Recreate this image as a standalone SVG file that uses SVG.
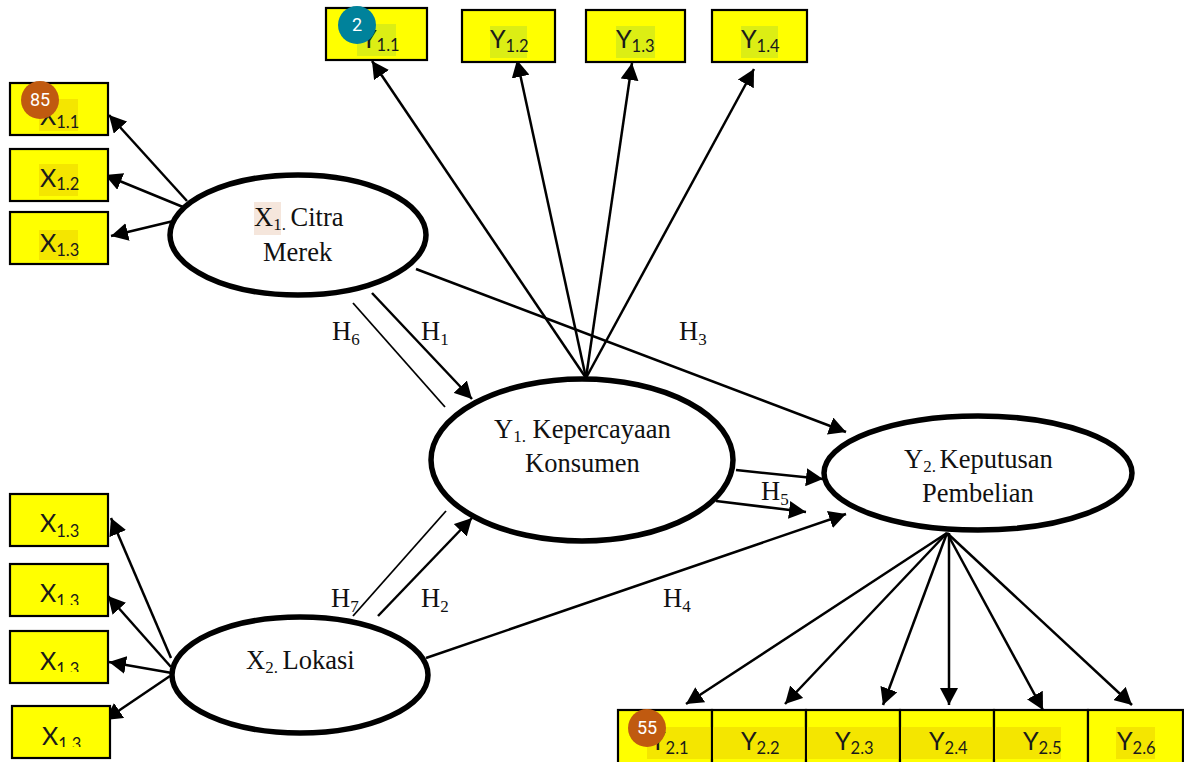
<svg xmlns="http://www.w3.org/2000/svg" width="1184" height="762" viewBox="0 0 1184 762">
<style>
.box{fill:#ffff00;stroke:#000;stroke-width:2.2}
.hl{fill:#f4e600}
.hg{fill:#dcee14}
.el{fill:#fff;stroke:#000;stroke-width:5.5}
.lbl{font-family:Lato,"Noto Sans",sans-serif;font-size:25px;fill:#1a1a1a}
.lbl tspan{font-size:16.5px}
.ser{font-family:"Liberation Serif","Times New Roman",serif;font-size:26.5px;fill:#111}
.ser tspan.s{font-size:17px}
.badge{font-family:Roboto,"Noto Sans",sans-serif;font-size:18px;fill:#fff;text-anchor:middle}
.c{fill:none;stroke:#000;stroke-width:2.5}
.t{fill:none;stroke:#000;stroke-width:1.8}
</style>
<defs>
<marker id="a" markerUnits="userSpaceOnUse" markerWidth="19" markerHeight="18" refX="17" refY="9" orient="auto"><path d="M0 0L17 9L0 18Z" fill="#000"/></marker>
<clipPath id="c1"><rect x="0" y="0" width="1184" height="260"/></clipPath>
<clipPath id="c2"><rect x="0" y="0" width="1184" height="605"/></clipPath>
<clipPath id="c3"><rect x="0" y="0" width="1184" height="672"/></clipPath>
<clipPath id="c4"><rect x="0" y="0" width="1184" height="747"/></clipPath>
<clipPath id="c5"><rect x="0" y="0" width="1184" height="754"/></clipPath>
</defs>
<g id="connectors">
<path class="c" marker-end="url(#a)" d="M187 201L109 115"/>
<path class="c" marker-end="url(#a)" d="M183 207L105 175"/>
<path class="c" marker-end="url(#a)" d="M186 218L111 236"/>
<path class="c" marker-end="url(#a)" d="M586 378L372 61"/>
<path class="c" marker-end="url(#a)" d="M586 378L517 60"/>
<path class="c" marker-end="url(#a)" d="M586 378L632 63"/>
<path class="c" marker-end="url(#a)" d="M586 378L754 69"/>
<path class="t" d="M353 303L445 407"/>
<path class="c" marker-end="url(#a)" d="M372 293L472 399"/>
<path class="c" marker-end="url(#a)" d="M416 269L846 432"/>
<path class="c" marker-end="url(#a)" d="M736 470L823 479"/>
<path class="c" marker-end="url(#a)" d="M716 501L806 512"/>
<path class="t" d="M353 616L446 511"/>
<path class="c" marker-end="url(#a)" d="M378 616L472 518"/>
<path class="c" marker-end="url(#a)" d="M426 658L846 514"/>
<path class="c" marker-end="url(#a)" d="M171 658L111 518"/>
<path class="c" marker-end="url(#a)" d="M171 667L108 596"/>
<path class="c" marker-end="url(#a)" d="M172 673L109 662"/>
<path class="c" marker-end="url(#a)" d="M170 676L105 720"/>
<path class="c" marker-end="url(#a)" d="M947 533L686 704"/>
<path class="c" marker-end="url(#a)" d="M947 533L785 704"/>
<path class="c" marker-end="url(#a)" d="M947 533L883 705"/>
<path class="c" marker-end="url(#a)" d="M949 533L949 705"/>
<path class="c" marker-end="url(#a)" d="M947 533L1043 710"/>
<path class="c" marker-end="url(#a)" d="M947 533L1132 705"/>
</g>
<g id="node-x11"><rect class="box" x="10" y="83" width="98" height="52"/><rect class="hl" x="39" y="99" width="39" height="32"/><text class="lbl" x="40" y="125">X<tspan dy="3">1.1</tspan></text></g>
<g id="node-x12"><rect class="box" x="10" y="149" width="98" height="52"/><rect class="hl" x="39" y="164" width="39" height="32"/><text class="lbl" x="40" y="187">X<tspan dy="3">1.2</tspan></text></g>
<g id="node-x13"><rect class="box" x="10" y="212" width="98" height="52"/><rect class="hl" x="39" y="230" width="39" height="30"/><text class="lbl" x="40" y="252" clip-path="url(#c1)">X<tspan dy="4">1.3</tspan></text></g>
<g id="node-y11"><rect class="box" x="326" y="8" width="101" height="52"/><rect class="hg" x="357" y="24" width="39" height="32"/><text class="lbl" x="361" y="48">Y<tspan dy="3">1.1</tspan></text></g>
<g id="node-y12"><rect class="box" x="462" y="10" width="93" height="52"/><rect class="hg" x="490" y="26" width="37" height="32"/><text class="lbl" x="490" y="48">Y<tspan dy="4">1.2</tspan></text></g>
<g id="node-y13"><rect class="box" x="586" y="10" width="99" height="52"/><rect class="hg" x="616" y="26" width="39" height="32"/><text class="lbl" x="616" y="48">Y<tspan dy="4">1.3</tspan></text></g>
<g id="node-y14"><rect class="box" x="712" y="10" width="95" height="52"/><rect class="hg" x="741" y="26" width="37" height="32"/><text class="lbl" x="741" y="48">Y<tspan dy="4">1.4</tspan></text></g>
<g id="node-x21"><rect class="box" x="10" y="494" width="98" height="52"/><text class="lbl" x="40" y="532">X<tspan dy="5">1.3</tspan></text></g>
<g id="node-x22"><rect class="box" x="10" y="564" width="98" height="52"/><text class="lbl" x="40" y="602" clip-path="url(#c2)">X<tspan dy="5">1.3</tspan></text></g>
<g id="node-x23"><rect class="box" x="10" y="631" width="98" height="52"/><text class="lbl" x="40" y="670" clip-path="url(#c3)">X<tspan dy="5">1.3</tspan></text></g>
<g id="node-x24"><rect class="box" x="12" y="706" width="98" height="52"/><text class="lbl" x="42" y="745" clip-path="url(#c4)">X<tspan dy="5">1.3</tspan></text></g>
<g id="node-y21"><rect class="box" x="618" y="710" width="94" height="54"/><rect class="hl" x="647" y="727" width="65" height="32"/><text class="lbl" x="650" y="750" clip-path="url(#c5)">Y<tspan dy="4">2.1</tspan></text></g>
<g id="node-y22"><rect class="box" x="712" y="710" width="94" height="54"/><rect class="hl" x="713" y="727" width="93" height="32"/><text class="lbl" x="741" y="750" clip-path="url(#c5)">Y<tspan dy="4">2.2</tspan></text></g>
<g id="node-y23"><rect class="box" x="806" y="710" width="94" height="54"/><rect class="hl" x="807" y="727" width="93" height="32"/><text class="lbl" x="835" y="750" clip-path="url(#c5)">Y<tspan dy="4">2.3</tspan></text></g>
<g id="node-y24"><rect class="box" x="900" y="710" width="94" height="54"/><rect class="hl" x="901" y="727" width="93" height="32"/><text class="lbl" x="929" y="750" clip-path="url(#c5)">Y<tspan dy="4">2.4</tspan></text></g>
<g id="node-y25"><rect class="box" x="994" y="710" width="94" height="54"/><rect class="hl" x="995" y="727" width="66" height="32"/><text class="lbl" x="1023" y="750" clip-path="url(#c5)">Y<tspan dy="4">2.5</tspan></text></g>
<g id="node-y26"><rect class="box" x="1088" y="710" width="95" height="54"/><rect class="hl" x="1116" y="727" width="39" height="32"/><text class="lbl" x="1117" y="750" clip-path="url(#c5)">Y<tspan dy="4">2.6</tspan></text></g>
<g id="node-x1"><ellipse class="el" cx="298" cy="235" rx="128" ry="60"/><rect x="254" y="202" width="27" height="33" fill="#f5e6dc"/><text class="ser" x="254" y="225.5">X<tspan class="s" dy="4">1.</tspan><tspan dy="-4" dx="-2"> Citra</tspan></text><text class="ser" x="263" y="261">Merek</text></g>
<g id="node-y1"><ellipse class="el" cx="582" cy="460" rx="151" ry="81"/><text class="ser" x="494" y="437.5">Y<tspan class="s" dy="4">1.</tspan><tspan dy="-4"> Kepercayaan</tspan></text><text class="ser" x="525" y="471.5">Konsumen</text></g>
<g id="node-y2"><ellipse class="el" cx="978" cy="473" rx="154" ry="57"/><text class="ser" x="904" y="467.5">Y<tspan class="s" dy="4">2.</tspan><tspan dy="-4" dx="-3"> Keputusan</tspan></text><text class="ser" x="922" y="501.5">Pembelian</text></g>
<g id="node-x2"><ellipse class="el" cx="300" cy="675" rx="128" ry="58"/><text class="ser" x="246" y="669">X<tspan class="s" dy="4">2.</tspan><tspan dy="-4" dx="-2"> Lokasi</tspan></text></g>
<g id="labels">
<text class="ser" x="332" y="340">H<tspan class="s" dy="5">6</tspan></text>
<text class="ser" x="421" y="340">H<tspan class="s" dy="5">1</tspan></text>
<text class="ser" x="679" y="340">H<tspan class="s" dy="5">3</tspan></text>
<text class="ser" x="761" y="500">H<tspan class="s" dy="5">5</tspan></text>
<text class="ser" x="331" y="607">H<tspan class="s" dy="5">7</tspan></text>
<text class="ser" x="421" y="607">H<tspan class="s" dy="5">2</tspan></text>
<text class="ser" x="663" y="607">H<tspan class="s" dy="5">4</tspan></text>
</g>
<g id="badges">
<circle cx="40" cy="100" r="19" fill="#c05a10"/><text class="badge" x="40" y="106">85</text>
<circle cx="357" cy="25" r="19" fill="#00829b"/><text class="badge" x="357" y="31">2</text>
<circle cx="647" cy="728" r="19" fill="#c05a10"/><text class="badge" x="647" y="734">55</text>
</g>
</svg>
